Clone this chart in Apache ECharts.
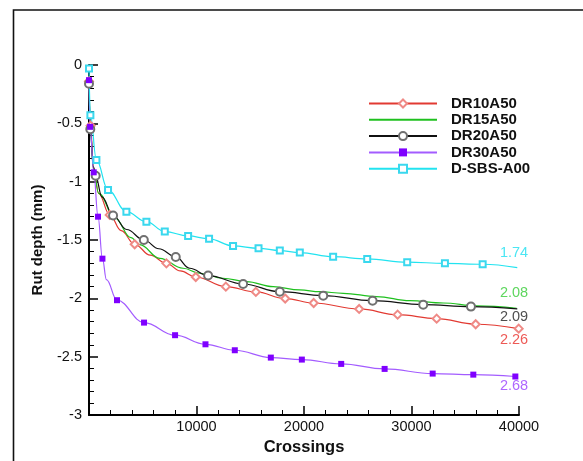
<!DOCTYPE html>
<html><head><meta charset="utf-8">
<script src="https://cdn.jsdelivr.net/npm/echarts@6/dist/echarts.min.js"></script>
<style>html,body{margin:0;padding:0;background:#fff}#c{width:583px;height:461px}</style>
</head><body><div id="c"></div>
<script>
const seriesNames = ['DR10A50', 'DR15A50', 'DR20A50', 'DR30A50', 'D-SBS-A00'];
const xTicks = [0, 10000, 20000, 30000, 40000];
const yTicks = [0, -0.5, -1, -1.5, -2, -2.5, -3];
const minorPerMajor = 5;

const dr10 = [[0,-0.14],[150,-0.52],[400,-0.88],[900,-1.1],[1927,-1.285],[3000,-1.42],[4250,-1.537],[5700,-1.63],[7200,-1.70],[8500,-1.765],[9930,-1.817],[12730,-1.90],[15520,-1.945],[18250,-2.002],[20900,-2.04],[25130,-2.091],[28710,-2.14],[32340,-2.174],[35970,-2.222],[39970,-2.26]];
const dr10Marks = [0,150,1927,4250,7200,9930,12730,15520,18250,20900,25130,28710,32340,35970,39970];

const dr15 = [[0,-0.1],[100,-0.5],[400,-0.88],[900,-1.1],[2400,-1.31],[3900,-1.48],[4720,-1.54],[6580,-1.657],[8750,-1.742],[10300,-1.785],[12470,-1.828],[14650,-1.857],[17130,-1.90],[19610,-1.928],[21480,-1.943],[23650,-1.957],[26750,-1.985],[29850,-2.02],[32950,-2.04],[36060,-2.065],[39780,-2.085]];
const dr15Marks = [];

const dr20 = [[0,-0.16],[120,-0.55],[400,-0.87],[620,-0.95],[1200,-1.13],[2240,-1.29],[3500,-1.41],[5100,-1.50],[6500,-1.575],[8070,-1.645],[9370,-1.742],[11080,-1.805],[14340,-1.877],[17750,-1.943],[21790,-1.977],[26380,-2.02],[31090,-2.054],[35530,-2.071],[39840,-2.09]];
const dr20Marks = [0,120,620,2240,5100,8070,11080,14340,17750,21790,26380,31090,35530];

const dr30 = [[0,-0.13],[100,-0.53],[440,-0.92],[840,-1.30],[1250,-1.66],[1620,-1.84],[2606,-2.016],[5120,-2.208],[8006,-2.316],[10835,-2.394],[13563,-2.445],[16914,-2.508],[19800,-2.525],[23460,-2.562],[27500,-2.605],[31970,-2.645],[35750,-2.654],[39660,-2.67]];
const dr30Marks = [0,100,440,840,1250,2606,5120,8006,10835,13563,16914,19800,23460,27500,31970,35750,39660];

const sbs = [[0,-0.03],[130,-0.43],[690,-0.814],[1770,-1.071],[3480,-1.257],[5340,-1.343],[7050,-1.428],[9220,-1.465],[11170,-1.49],[13400,-1.551],[15770,-1.571],[17750,-1.591],[19610,-1.608],[22710,-1.643],[25880,-1.662],[29600,-1.69],[33110,-1.70],[36620,-1.708],[39840,-1.737]];
const sbsMarks = [0,130,690,1770,3480,5340,7050,9220,11170,13400,15770,17750,19610,22710,25880,29600,33110,36620];

const endValues = ['2.26', '2.08', '2.09', '2.68', '1.74'];
const endAnchors = [[39535,-2.356],[39535,-1.951],[39535,-2.162],[39535,-2.75],[39535,-1.614]];

const FONT = "'Liberation Sans', Arial, sans-serif";
const styles = [
  {line:'#e23a32', item:'#ef8a86', symbol:'emptyDiamond', size:8, label:'#e8302a'},
  {line:'#1fc01f', item:'#1fc01f', symbol:'none', size:0, label:'#36cc36'},
  {line:'#111111', item:'#707070', symbol:'emptyCircle', size:8, label:'#222222'},
  {line:'#a35cff', item:'#7f00ff', symbol:'rect', size:6, label:'#9a40ff'},
  {line:'#22e3f0', item:'#3ad8ee', symbol:'emptyRect', size:6, label:'#1ee0f0'}
];
const allData = [dr10, dr15, dr20, dr30, sbs];
const allMarks = [dr10Marks, dr15Marks, dr20Marks, dr30Marks, sbsMarks];

function buildData(pts, marks) {
  return pts.map(p => marks.indexOf(p[0]) >= 0 ? {value: p} : {value: p, symbol: 'none'});
}

const xMin = xTicks[0], xMax = xTicks[xTicks.length - 1];
const yMin = yTicks[yTicks.length - 1], yMax = yTicks[0];

const series = seriesNames.map((name, i) => ({
  name: name,
  type: 'line',
  data: buildData(allData[i], allMarks[i]),
  symbol: styles[i].symbol,
  symbolSize: styles[i].size,
  showAllSymbol: true,
  smooth: 0.4,
  smoothMonotone: 'x',
  lineStyle: {color: styles[i].line, width: 1.2},
  itemStyle: {color: styles[i].item, borderWidth: 1},
  emphasis: {disabled: true},
  z: 3
}));

series.push({
  type: 'scatter',
  silent: true,
  symbol: 'circle',
  symbolSize: 0.1,
  itemStyle: {color: 'transparent'},
  z: 5,
  data: endValues.map((v, i) => ({
    value: [endAnchors[i][0], endAnchors[i][1], v],
    label: {color: styles[i].label}
  })),
  label: {
    show: true, position: 'inside',
    formatter: p => p.value[2],
    fontFamily: FONT, fontSize: 14.5
  }
});

const axisCommon = {
  type: 'value',
  axisLine: {show: true, onZero: false, lineStyle: {color: '#000', width: 2}},
  axisTick: {show: true, inside: true, length: 9, lineStyle: {color: '#000', width: 1.5}},
  minorTick: {show: true, splitNumber: minorPerMajor, length: 5, lineStyle: {color: '#000', width: 1}},
  splitLine: {show: false},
  minorSplitLine: {show: false},
  nameLocation: 'middle'
};

const chart = echarts.init(document.getElementById('c'));
chart.setOption({
  animation: false,
  backgroundColor: '#fff',
  grid: {left: 89, top: 65, right: 64, bottom: 46, containLabel: false},
  graphic: [{
    type: 'rect', silent: true, z: -10,
    shape: {x: 13.5, y: 10, width: 700, height: 600},
    style: {fill: 'none', stroke: '#111', lineWidth: 1.6}
  }],
  legend: {
    orient: 'vertical', left: 368, top: 96, padding: 0,
    itemWidth: 68, itemHeight: 10, itemGap: 1.3,
    selectedMode: false,
    data: seriesNames.map((n, i) => (styles[i].symbol === 'none' ? {name: n, itemStyle: {opacity: 0}} : {name: n})),
    textStyle: {fontFamily: FONT, fontSize: 15, fontWeight: 'bold', color: '#111', padding: [0, 0, 0, 9]}
  },
  xAxis: Object.assign({}, axisCommon, {
    min: xMin, max: xMax, interval: xTicks[1] - xTicks[0],
    name: 'Crossings', nameGap: 15,
    nameTextStyle: {fontFamily: FONT, fontSize: 16.5, fontWeight: 'bold', color: '#111'},
    axisLabel: {margin: 4, fontFamily: FONT, fontSize: 14.5, color: '#111',
      formatter: v => (v === 0 ? '' : String(v))}
  }),
  yAxis: Object.assign({}, axisCommon, {
    min: yMin, max: yMax, interval: yTicks[0] - yTicks[1],
    name: 'Rut depth (mm)', nameGap: 44,
    nameTextStyle: {fontFamily: FONT, fontSize: 15, fontWeight: 'bold', color: '#111'},
    axisLabel: {margin: 7, fontFamily: FONT, fontSize: 14.5, color: '#111',
      formatter: v => String(v)}
  }),
  series: series
});
</script>
</body></html>
